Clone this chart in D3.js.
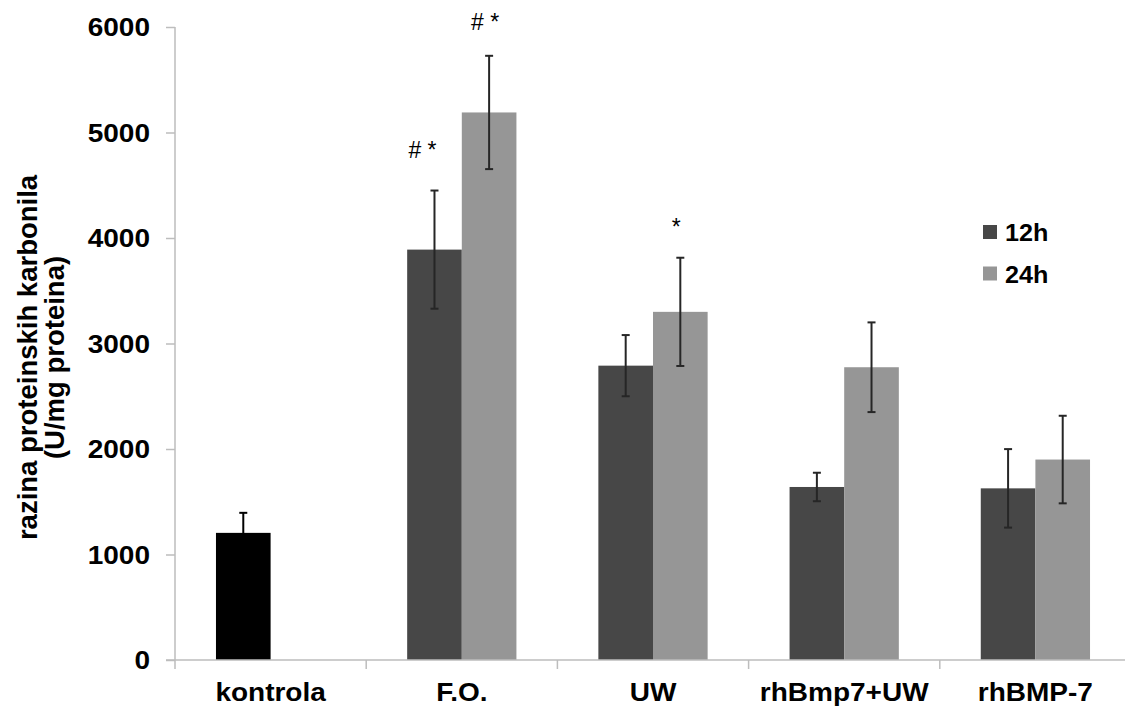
<!DOCTYPE html>
<html>
<head>
<meta charset="utf-8">
<script src="https://cdn.jsdelivr.net/npm/d3@7"></script>
<style>
  html, body { margin: 0; padding: 0; background: #fff; }
  svg { display: block; }
  text { font-family: "Liberation Sans", Arial, sans-serif; }
</style>
</head>
<body>
<svg id="chart" width="1125" height="709"></svg>
<script>
// ---- data ----
const categories = ["kontrola", "F.O.", "UW", "rhBmp7+UW", "rhBMP-7"];
const seriesNames = ["12h", "24h"];
const values12h = [1205, 3890, 2790, 1640, 1627];
const values24h = [null, 5190, 3300, 2775, 1900];
const errors12h = [190, 560, 290, 135, 372];
const errors24h = [null, 537, 513, 425, 415];
const yTicks = [0, 1000, 2000, 3000, 4000, 5000, 6000];
const yTitle = ["razina proteinskih karbonila", "(U/mg proteina)"];
// significance marks: category, series, text, level (value units)
const annCategory = ["F.O.", "F.O.", "UW"];
const annSeries = ["12h", "24h", "24h"];
const annText = ["# *", "# *", "*"];
const annLevel = [4760, 5975, 4030];

// ---- layout ----
const svg = d3.select("#chart");
const plotLeft = 175, plotTop = 27, plotBottom = 660, plotRight = 1131;
const colors = { "12h": "#474747", "24h": "#969696" };
const controlColor = "#000000";
const axisColor = "#bdbdbd";
const errColor = "#262626";

const x = d3.scaleBand().domain(categories).range([plotLeft, plotRight]).paddingInner(0).paddingOuter(0);
const barW = x.bandwidth() / 3.5;
const x1 = d3.scaleBand().domain(seriesNames).range([0.75 * barW, 2.75 * barW]).padding(0);
const y = d3.scaleLinear().domain([0, 6000]).range([plotBottom, plotTop]);

const rows = [];
categories.forEach((c, i) => {
  rows.push({ cat: c, s: "12h", v: values12h[i], e: errors12h[i], ctrl: i === 0 });
  if (values24h[i] != null) rows.push({ cat: c, s: "24h", v: values24h[i], e: errors24h[i], ctrl: false });
});

// bars
svg.append("g").selectAll("rect").data(rows).join("rect")
  .attr("x", d => x(d.cat) + x1(d.s))
  .attr("width", x1.bandwidth())
  .attr("y", d => y(d.v))
  .attr("height", d => y(0) - y(d.v))
  .attr("fill", d => d.ctrl ? controlColor : colors[d.s]);

// error bars
const eg = svg.append("g").attr("stroke", errColor).attr("stroke-width", 2);
rows.forEach(d => {
  const cx = x(d.cat) + x1(d.s) + x1.bandwidth() / 2;
  const c = d.ctrl ? "#000" : errColor;
  eg.append("line").attr("stroke", c).attr("x1", cx).attr("x2", cx).attr("y1", y(d.v + d.e)).attr("y2", y(d.v - d.e));
  [d.v + d.e, d.v - d.e].forEach(v => {
    eg.append("line").attr("stroke", c).attr("x1", cx - 4).attr("x2", cx + 4).attr("y1", y(v)).attr("y2", y(v));
  });
});

// axes
const yAxis = svg.append("g").attr("transform", `translate(${plotLeft},0)`)
  .call(d3.axisLeft(y).tickValues(yTicks).tickSize(9).tickFormat(""));
yAxis.select(".domain").attr("stroke", axisColor).attr("stroke-width", 1.5).attr("d", `M0,${plotTop}V${plotBottom}`);
yAxis.selectAll(".tick line").attr("stroke", axisColor).attr("stroke-width", 1.5);

const xAxis = svg.append("g").attr("transform", `translate(0,${plotBottom})`)
  .call(d3.axisBottom(x).tickSize(0).tickFormat(""));
xAxis.select(".domain").attr("stroke", axisColor).attr("stroke-width", 1.5).attr("d", `M${plotLeft - 9},0H${plotRight}`);
xAxis.selectAll(".tick line").remove();
const boundaries = categories.map(c => x(c)).concat([x(categories[categories.length - 1]) + x.bandwidth()]);
xAxis.selectAll(".bline").data(boundaries).join("line").attr("class", "bline")
  .attr("x1", d => d).attr("x2", d => d).attr("y1", 0).attr("y2", 9)
  .attr("stroke", axisColor).attr("stroke-width", 1.5);

// y tick labels
svg.append("g").selectAll("g").data(yTicks).join("g")
  .attr("transform", d => `translate(150,${y(d)}) scale(1.12,1)`)
  .append("text")
  .attr("text-anchor", "end").attr("dy", "0.36em")
  .attr("font-size", 25).attr("font-weight", "bold").attr("fill", "#000")
  .text(d => d);

// x category labels
svg.append("g").selectAll("g").data(categories).join("g")
  .attr("transform", d => `translate(${x(d) + x.bandwidth() / 2},701) scale(1.12,1)`)
  .append("text")
  .attr("text-anchor", "middle")
  .attr("font-size", 25).attr("font-weight", "bold").attr("fill", "#000")
  .text(d => d);

// y title
const yt = svg.append("text")
  .attr("transform", `translate(0,${(plotTop + plotBottom) / 2 + 14}) rotate(-90)`)
  .attr("text-anchor", "middle").attr("font-size", 27.5).attr("font-weight", "bold").attr("fill", "#000");
yt.append("tspan").attr("x", 0).attr("y", 37).text(yTitle[0]);
yt.append("tspan").attr("x", 0).attr("y", 64).text(yTitle[1]);

// annotations
svg.append("g").selectAll("text").data(annText).join("text")
  .attr("x", (d, i) => x(annCategory[i]) + x1(annSeries[i]) + x1.bandwidth() / 2 - (annSeries[i] === "12h" ? 12 : 4))
  .attr("y", (d, i) => y(annLevel[i]))
  .attr("text-anchor", "middle").attr("font-size", 23).attr("fill", "#000")
  .text(d => d);

// legend
const lg = svg.append("g").attr("transform", "translate(983,225)");
seriesNames.forEach((s, i) => {
  const g = lg.append("g").attr("transform", `translate(0,${i * 41.5})`);
  g.append("rect").attr("width", 14).attr("height", 14).attr("fill", colors[s]);
  g.append("g").attr("transform", "translate(22,16) scale(1.05,1)")
    .append("text").attr("font-size", 24).attr("font-weight", "bold").attr("fill", "#000").text(s);
});
</script>
</body>
</html>
